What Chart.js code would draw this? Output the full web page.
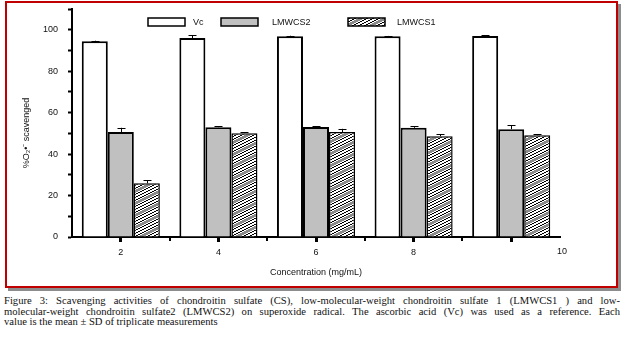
<!DOCTYPE html>
<html>
<head>
<meta charset="utf-8">
<script src="https://cdn.jsdelivr.net/npm/chart.js@4.4.1/dist/chart.umd.min.js"></script>
<style>
  html, body { margin: 0; padding: 0; background: #fff; }
  #wrap { position: relative; width: 624px; height: 338px; overflow: hidden; }
  #frame { position: absolute; left: 5px; top: 1px; width: 609px; height: 283px;
           border: 2px solid #c00000; box-shadow: 3px 3px 0 #8c8c8c; }
  #box { position: absolute; left: 0; top: 0; width: 624px; height: 292px; }
  #caption { position: absolute; left: 4px; top: 296px; width: 616px;
             font-family: "Liberation Serif", serif; font-size: 10.6px; line-height: 10.6px; color: #111; }
  #caption div { text-align: justify; text-align-last: justify; white-space: nowrap; }
  #caption div.last { text-align-last: left; }
</style>
</head>
<body>
<div id="wrap">
  <div id="frame"></div>
  <div id="box"><canvas id="chart" width="624" height="292"></canvas></div>
  <div id="caption">
    <div>Figure 3: Scavenging activities of chondroitin sulfate (CS), low-molecular-weight chondroitin sulfate 1 (LMWCS1 ) and low-</div>
    <div>molecular-weight chondroitin sulfate2 (LMWCS2) on superoxide radical. The ascorbic acid (Vc) was used as a reference. Each</div>
    <div class="last">value is the mean ± SD of triplicate measurements</div>
  </div>
</div>
<script>
// concentrations (mg/mL)
const categories = ['2', '4', '6', '8', '10'];

// % scavenged, mean and SD
const vc = [94.4, 96.0, 96.8, 96.8, 97.0];
const vcSd = [0.3, 1.4, 0.3, 0.2, 0.4];
const lmwcs2 = [50.6, 53.0, 53.1, 52.7, 52.0];
const lmwcs2Sd = [2.1, 0.5, 0.3, 0.8, 2.0];
const lmwcs1 = [25.9, 50.1, 50.6, 48.6, 49.1];
const lmwcs1Sd = [1.5, 0.4, 1.6, 1.0, 0.6];

const yMax = 110;
const yStep = 10;

// hatch fill for LMWCS1
function makeHatch() {
    const c = document.createElement('canvas');
    c.width = 24; c.height = 12;
    const g = c.getContext('2d');
    g.fillStyle = '#fff';
    g.fillRect(0, 0, 24, 12);
    for (let x = 0; x < 24; x++) {
        for (let y = 0; y < 12; y++) {
            const k = (y + Math.floor(x / 2)) % 12;
            if (k >= 5 && k <= 7) {
                g.fillStyle = '#8a8a8a';
                g.fillRect(x, y, 1, 1);
            } else if (k % 3 === 0) {
                g.fillStyle = '#000';
                g.fillRect(x, y, 1, 1);
            }
        }
    }
    return g.createPattern(c, 'repeat');
}

const ctx = document.getElementById('chart').getContext('2d');
const hatch = makeHatch();
const sds = [vcSd, lmwcs2Sd, lmwcs1Sd];

const extras = {
    id: 'extras',
    afterDatasetsDraw(chart) {
        const g = chart.ctx;
        const ys = chart.scales.y;
        const xs = chart.scales.x;
        g.save();
        // error bars (upper half only)
        g.strokeStyle = '#000';
        g.lineWidth = 1;
        chart.data.datasets.forEach((ds, di) => {
            const meta = chart.getDatasetMeta(di);
            meta.data.forEach((bar, i) => {
                const top = ys.getPixelForValue(ds.data[i] + sds[di][i]);
                const x = Math.round(bar.x) + 0.5;
                g.beginPath();
                g.moveTo(x, bar.y);
                g.lineTo(x, top);
                g.moveTo(x - 4, Math.round(top) + 0.5);
                g.lineTo(x + 4, Math.round(top) + 0.5);
                g.stroke();
            });
        });
        // minor ticks between the groups
        g.fillStyle = '#000';
        for (let i = 0; i < categories.length - 1; i++) {
            const xb = (xs.getPixelForValue(i) + xs.getPixelForValue(i + 1)) / 2;
            g.fillRect(Math.round(xb) - 1, ys.bottom + 1, 2, 3);
        }
        // last label sits at the end of the axis
        g.font = '9px "Liberation Sans", Arial, sans-serif';
        g.fillStyle = '#111';
        g.textAlign = 'center';
        g.textBaseline = 'middle';
        g.fillText(categories[categories.length - 1], xs.right + 2, 252);
        // axis titles
        g.fillText('Concentration (mg/mL)', 316, 273);
        g.translate(27, 133);
        g.rotate(-Math.PI / 2);
        g.fillText('%O\u2082\u2022\u207B scavenged', 0, 0);
        g.restore();

        // legend
        g.save();
        const items = [
            { x: 148, tx: 193 },
            { x: 221, tx: 272 },
            { x: 348, tx: 397 }
        ];
        chart.data.datasets.forEach((ds, di) => {
            const it = items[di];
            g.fillStyle = ds.backgroundColor;
            g.fillRect(it.x, 18, 37, 8);
            g.strokeStyle = '#000';
            g.lineWidth = 1.5;
            g.strokeRect(it.x, 18, 37, 8);
            g.fillStyle = '#111';
            g.font = '9px "Liberation Sans", Arial, sans-serif';
            g.textBaseline = 'middle';
            g.textAlign = 'left';
            g.fillText(ds.label, it.tx, 22.5);
        });
        g.restore();
    }
};

new Chart(ctx, {
    type: 'bar',
    data: {
        labels: categories,
        datasets: [
            { label: 'Vc', data: vc, backgroundColor: '#ffffff', borderColor: '#000', borderWidth: 2 },
            { label: 'LMWCS2', data: lmwcs2, backgroundColor: '#c0c0c0', borderColor: '#000', borderWidth: 2 },
            { label: 'LMWCS1', data: lmwcs1, backgroundColor: hatch, borderColor: '#000', borderWidth: 1.5 }
        ]
    },
    options: {
        responsive: false,
        animation: false,
        devicePixelRatio: 1,
        categoryPercentage: 0.8,
        barPercentage: 1.0,
        layout: { padding: { left: 0, right: 64, top: 9, bottom: 25 } },
        plugins: { legend: { display: false }, tooltip: { enabled: false } },
        scales: {
            x: {
                afterFit: (s) => { s.height = 30; },
                border: { color: '#000', width: 2 },
                grid: { offset: false, drawOnChartArea: false, color: '#000', tickLength: 5, tickWidth: 3 },
                ticks: {
                    color: '#111',
                    padding: 5,
                    font: { family: '"Liberation Sans", Arial, sans-serif', size: 9 },
                    callback: (v, i) => (i === categories.length - 1 ? '' : categories[i])
                }
            },
            y: {
                min: 0,
                max: yMax,
                afterFit: (s) => { s.width = 72; s.paddingTop = 0; s.paddingBottom = 0; },
                border: { color: '#000', width: 2 },
                grid: { drawOnChartArea: false, color: '#000', tickLength: 4, tickWidth: 2 },
                ticks: {
                    stepSize: yStep,
                    color: '#111',
                    padding: 10,
                    font: { family: '"Liberation Sans", Arial, sans-serif', size: 9 },
                    callback: (v) => (v % 20 === 0 && v <= 100 ? v : '')
                }
            }
        }
    },
    plugins: [extras]
});
</script>
</body>
</html>
